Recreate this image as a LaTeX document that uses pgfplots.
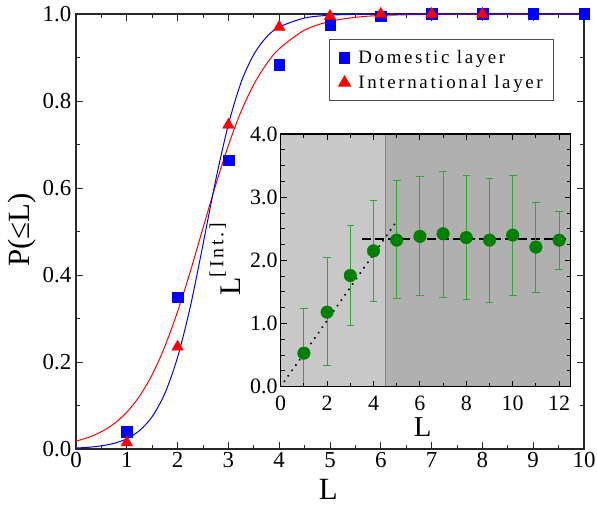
\documentclass[border=0pt]{standalone}
\usepackage{pgfplots}
\usepackage{pgfplotstable}
\pgfplotsset{compat=1.18}
\usepackage{fontspec}
\setmainfont{Liberation Serif}
\newfontfamily\legfont[LetterSpace=14]{Liberation Serif}
\definecolor{dgreen}{RGB}{0,128,0}
\definecolor{egreen}{RGB}{50,165,50}
\definecolor{lgray}{RGB}{200,200,200}
\definecolor{dgray}{RGB}{176,176,176}
\definecolor{vgray}{RGB}{130,130,130}
\definecolor{axcol}{RGB}{40,40,40}

\pgfplotstableread{
x y ep em
1 0.53 0.70 0.70
2 1.18 0.86 0.85
3 1.76 0.79 0.79
4 2.15 0.80 0.80
5 2.32 0.94 0.93
6 2.38 0.95 0.94
7 2.42 0.98 1.01
8 2.36 0.98 0.98
9 2.32 0.98 0.99
10 2.40 0.95 0.95
11 2.21 0.71 0.72
12 2.32 0.46 0.47
}\insetdata

\begin{document}
\begin{tikzpicture}
\useasboundingbox (0,0) rectangle (597bp,507bp);
\begin{axis}[
  at={(76bp,58bp)}, anchor=south west, scale only axis,
  width=508bp, height=435bp,
  xmin=0, xmax=10, ymin=0, ymax=1,
  xtick={0,1,2,3,4,5,6,7,8,9,10}, minor x tick num=1,
  ytick={0,0.2,0.4,0.6,0.8,1}, minor y tick num=1,
  /pgf/number format/assume math mode=true,
  tick label style={font=\fontsize{23}{23}\selectfont},
  yticklabel style={inner xsep=4.5bp, /pgf/number format/.cd, fixed, fixed zerofill, precision=1},
  tick align=inside,
  major tick length=7bp, minor tick length=4bp,
  axis line style={axcol, line width=1.1bp},
  every tick/.style={axcol, line width=0.9bp},
  xlabel={L},
  ylabel={P(≤L)},
  label style={font=\fontsize{31}{31}\selectfont},
  xlabel style={at={(axis description cs:0.4967,-0.0697)}, anchor=north, inner sep=0pt},
  ylabel style={at={(axis description cs:-0.106,0.503)}, anchor=center},
  clip=false,
  legend style={at={(0.4986,0.942)}, anchor=north west,
    font=\legfont\fontsize{19}{19}\selectfont, draw=black!70, line width=1bp,
    inner xsep=9bp, inner ysep=9bp, row sep=6bp, column sep=6bp,
    nodes={inner sep=2bp}},
  legend cell align=left,
  legend image code/.code={\draw[#1] plot coordinates {(0bp,0bp)};},
]
\addplot[red, line width=1bp, smooth, forget plot] coordinates {
(0,0.0181)(0.25,0.0269)(0.5,0.0397)(0.75,0.0581)(1,0.0845)(1.25,0.1213)
(1.5,0.171)(1.75,0.236)(2,0.316)(2.25,0.408)(2.5,0.508)(2.75,0.607)
(3,0.698)(3.25,0.776)(3.5,0.838)(3.75,0.885)(4,0.920)(4.5,0.963)
(5,0.983)(5.5,0.9923)(6,0.9966)(7,0.9993)(8,0.9999)(10,1.0)};
\addplot[blue, line width=1bp, smooth, forget plot] coordinates {
(0,0.0022)(0.25,0.0040)(0.5,0.0072)(0.75,0.0131)(1,0.0236)(1.25,0.0423)
(1.5,0.0745)(1.75,0.128)(2,0.211)(2.25,0.327)(2.5,0.470)(2.75,0.618)
(3,0.746)(3.25,0.843)(3.5,0.907)(3.75,0.947)(4,0.970)(4.5,0.9908)
(5,0.9972)(5.5,0.9992)(6,0.9997)(7,1.0)(10,1.0)};
\addplot[only marks, mark=square*, mark size=5.3bp, blue, mark options={draw=blue, fill=blue}] coordinates {
(1,0.040)(2,0.349)(3,0.664)(4,0.883)(5,0.975)(6,0.995)(7,1.0)(8,1.0)(9,1.0)(10,1.0)};
\addlegendentry{Domestic layer}
\addplot[only marks, mark=triangle*, mark size=6.7bp, red, mark options={draw=red, fill=red}] coordinates {
(1,0.015)(2,0.235)(3,0.745)(4,0.970)(5,0.995)(6,1.0)(7,1.0)(8,1.0)};
\addlegendentry{International layer}
\end{axis}

\begin{axis}[
  at={(280.7bp,120.3bp)}, anchor=south west, scale only axis,
  width=290bp, height=252.7bp,
  xmin=0, xmax=12.5, ymin=0, ymax=4,
  xtick={0,2,4,6,8,10,12}, minor x tick num=1,
  ytick={0,1,2,3,4}, minor y tick num=3,
  /pgf/number format/assume math mode=true,
  tick label style={font=\fontsize{22}{22}\selectfont},
  yticklabel style={inner xsep=3bp, /pgf/number format/.cd, fixed, fixed zerofill, precision=1},
  xticklabel style={inner ysep=9bp},
  tick align=inside,
  major tick length=6bp, minor tick length=4bp,
  axis line style={black, line width=1.1bp},
  every tick/.style={black, line width=0.9bp},
  xlabel={L},
  ylabel={L\raisebox{0.57em}{\legfont\fontsize{20}{20}\selectfont [Int.]}},
  xlabel style={font=\fontsize{29}{29}\selectfont, at={(axis description cs:0.490,-0.121)}, anchor=north, inner sep=0pt},
  ylabel style={font=\fontsize{30}{30}\selectfont, at={(axis description cs:-0.192,0.505)}, anchor=center},
  axis on top,
]
\addplot[fill=lgray, draw=none] coordinates {(0,4)(4.5,4)} \closedcycle;
\addplot[fill=dgray, draw=none] coordinates {(4.5,4)(12.5,4)} \closedcycle;
\addplot[vgray, line width=1bp] coordinates {(4.5,0)(4.5,4)};
\addplot[black, line width=2.2bp, dash pattern=on 0.1bp off 6.5bp, line cap=round] coordinates {(0,0)(5,2.62)};
\addplot[black, line width=2bp, dash pattern=on 9bp off 4bp] coordinates {(3.5,2.34)(12.5,2.34)};
\addplot[only marks, mark=*, mark size=6.3bp, mark options={draw=dgreen, fill=dgreen},
  error bars/.cd, y dir=both, y explicit,
  error bar style={egreen, line width=1bp},
  error mark options={egreen, mark size=3.8bp, line width=1bp, rotate=90}]
  table[x=x, y=y, y error plus=ep, y error minus=em] {\insetdata};
\end{axis}
\end{tikzpicture}
\end{document}
